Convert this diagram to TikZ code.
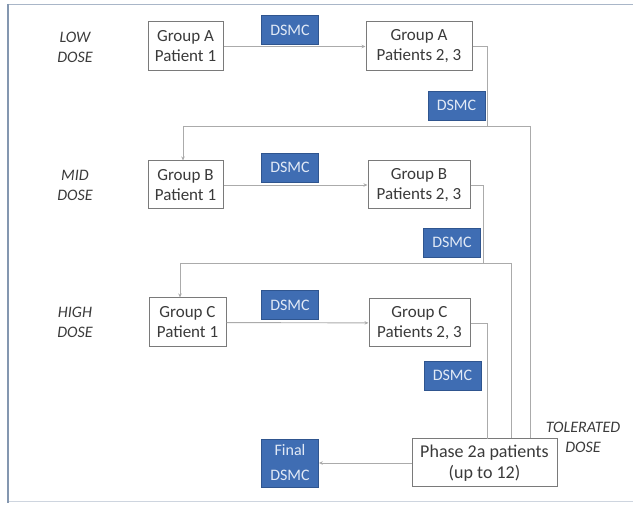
\documentclass[tikz,border=0pt]{standalone}
\usepackage{fontspec}
\setmainfont{Carlito}
\usetikzlibrary{arrows.meta}
\definecolor{dsmcfill}{HTML}{3F6DB3}
\definecolor{dsmcdraw}{HTML}{2F558F}
\definecolor{dsmctext}{HTML}{E2EAF6}
\definecolor{boxdraw}{HTML}{7A7A7A}
\definecolor{linecol}{HTML}{ABABAB}
\definecolor{txt}{HTML}{3A3A3A}
\definecolor{framecol}{HTML}{8497B0}
\begin{document}
\begin{tikzpicture}[x=1pt,y=-1pt,
  grp/.style={draw=boxdraw,line width=1pt,fill=white,text=txt,inner sep=0pt,
    minimum height=49pt,align=center,font=\fontsize{17}{20}\selectfont},
  dsmc/.style={draw=dsmcdraw,line width=0.8pt,fill=dsmcfill,text=dsmctext,inner sep=0pt,
    minimum width=57pt,minimum height=29pt,align=center,font=\fontsize{16}{24}\selectfont},
  dose/.style={text=txt,align=center,font=\fontsize{16}{20}\selectfont\itshape},
  conn/.style={draw=linecol,line width=0.9pt},
  arr/.style={conn,-{Stealth[length=4pt,width=3.5pt]}}
]
\useasboundingbox (0,0) rectangle (633,505);
% frame
\draw[framecol!70,line width=1pt] (8,5) -- (633,5);
\draw[framecol!40,line width=1pt] (8,502) -- (633,502);
\draw[framecol,line width=2pt] (8,4) -- (8,503);

% dose labels
\node[dose] (low) at (75,47) {LOW\\DOSE};
\node[dose] (mid) at (75,185) {MID\\DOSE};
\node[dose] (high) at (75,322.5) {HIGH\\DOSE};
\node[dose] (tol) at (583,437.5) {TOLERATED\\DOSE};

% group boxes
\node[grp,minimum width=75pt] (a1) at (185.5,46.5) {Group A\\Patient 1};
\node[grp,minimum width=106pt] (a2) at (419,46.5) {Group A\\Patients 2, 3};
\node[grp,minimum width=75pt,minimum height=48pt] (b1) at (185.5,185) {Group B\\Patient 1};
\node[grp,minimum width=102pt,minimum height=48pt] (b2) at (419,185) {Group B\\Patients 2, 3};
\node[grp,minimum width=77pt] (c1) at (187.5,322.5) {Group C\\Patient 1};
\node[grp,minimum width=101pt,minimum height=48pt] (c2) at (419.5,323) {Group C\\Patients 2, 3};
\node[grp,minimum width=145pt,minimum height=48pt,font=\fontsize{18}{21}\selectfont] (p) at (484.5,463) {Phase 2a patients\\(up to 12)};

% connector coordinates
\coordinate (ja) at (487,126);
\coordinate (jal) at (183,126);
\coordinate (jar) at (530,126);
\coordinate (jb) at (483,263);
\coordinate (jbl) at (180,263);
\coordinate (jbr) at (511,263);
\coordinate (jc) at (487,439);

% connectors
\draw[arr] (a1) -- (a2);
\draw[arr] (b1) -- (b2);
\draw[arr] (c1) -- (c2);
\draw[conn] (a2.east) -| (ja);
\draw[conn] (jal) -- (jar);
\draw[arr] (jal) -- (jal |- b1.north);
\draw[conn] (jar) -- (jar |- p.north);
\draw[conn] (b2.east) -| (jb);
\draw[conn] (jbl) -- (jbr);
\draw[arr] (jbl) -- (jbl |- c1.north);
\draw[conn] (jbr) -- (jbr |- p.north);
\draw[conn] (c2.east) -| (jc);

% DSMC boxes
\node[dsmc] (d1) at (290,30) {DSMC};
\node[dsmc] (d2) at (456.5,105.5) {DSMC};
\node[dsmc] (d3) at (290,167.5) {DSMC};
\node[dsmc] (d4) at (452,242.5) {DSMC};
\node[dsmc] (d5) at (290,305) {DSMC};
\node[dsmc] (d6) at (452.5,375.5) {DSMC};
\node[dsmc,minimum height=48pt,font=\fontsize{16}{25}\selectfont] (fd) at (290,463) {Final\\DSMC};

\draw[arr] (p) -- (fd);
\end{tikzpicture}
\end{document}
